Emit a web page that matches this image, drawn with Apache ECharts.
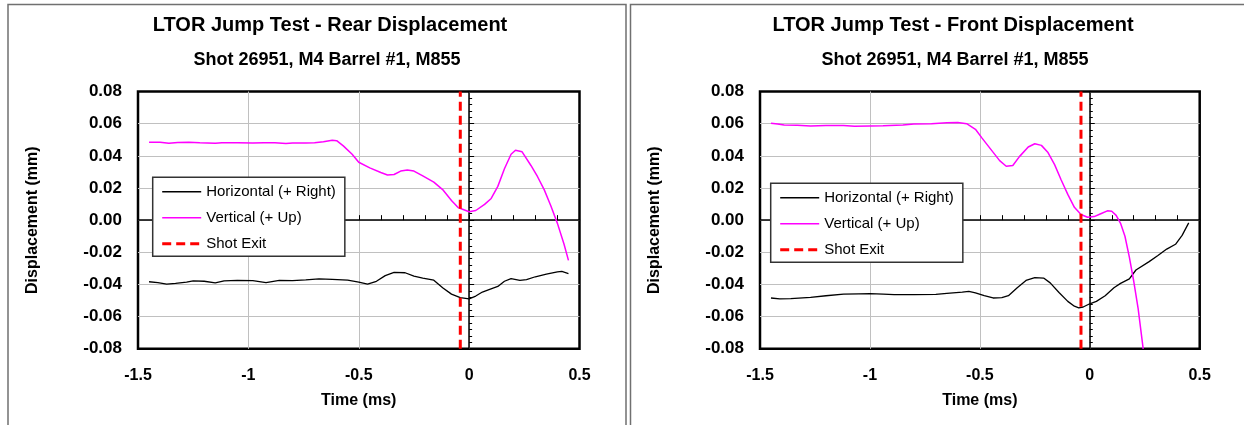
<!DOCTYPE html>
<html>
<head>
<meta charset="utf-8">
<script src="https://cdn.jsdelivr.net/npm/echarts@6/dist/echarts.min.js"></script>
<style>
  html, body { margin: 0; padding: 0; background: #fff; }
  #chart { width: 1244px; height: 425px; }
</style>
</head>
<body>
<div id="chart"></div>
<script>
// Axis ranges and tick labels
const xMin = -1.5, xMax = 0.5, xStep = 0.5;
const yMin = -0.08, yMax = 0.08, yStep = 0.02;
const yTickLabels = ['-0.08', '-0.06', '-0.04', '-0.02', '0.00', '0.02', '0.04', '0.06', '0.08'];

// Muzzle exit time (ms)
const shotExitTime = -0.04;

// Rear sensor: horizontal displacement (mm) vs time (ms)
const rearHorizTime = [-1.45, -1.41, -1.37, -1.33, -1.28, -1.25, -1.20, -1.15, -1.11, -1.05, -0.98, -0.92, -0.86, -0.80, -0.74, -0.68, -0.62, -0.55, -0.50, -0.46, -0.42, -0.38, -0.34, -0.29, -0.25, -0.21, -0.16, -0.12, -0.08, -0.04, 0.00, 0.03, 0.06, 0.09, 0.13, 0.16, 0.19, 0.23, 0.26, 0.30, 0.35, 0.40, 0.42, 0.45];
const rearHorizDisp = [-0.0383, -0.0388, -0.0398, -0.0393, -0.0385, -0.0377, -0.0380, -0.0390, -0.0377, -0.0375, -0.0376, -0.0388, -0.0374, -0.0376, -0.0372, -0.0365, -0.0368, -0.0373, -0.0385, -0.0398, -0.0380, -0.0345, -0.0325, -0.0327, -0.0348, -0.0360, -0.0373, -0.0420, -0.0460, -0.0482, -0.0489, -0.0472, -0.0447, -0.0432, -0.0412, -0.0380, -0.0363, -0.0375, -0.0370, -0.0352, -0.0335, -0.0322, -0.0318, -0.0332];

// Rear sensor: vertical displacement (mm) vs time (ms)
const rearVertTime = [-1.45, -1.40, -1.36, -1.32, -1.27, -1.22, -1.15, -1.12, -1.05, -0.98, -0.93, -0.88, -0.83, -0.80, -0.74, -0.70, -0.66, -0.62, -0.60, -0.57, -0.53, -0.50, -0.45, -0.40, -0.37, -0.34, -0.31, -0.28, -0.25, -0.21, -0.16, -0.12, -0.08, -0.05, -0.03, 0.00, 0.03, 0.07, 0.10, 0.13, 0.16, 0.19, 0.21, 0.24, 0.28, 0.31, 0.34, 0.37, 0.40, 0.43, 0.45];
const rearVertDisp = [0.0485, 0.0485, 0.0478, 0.0483, 0.0485, 0.0481, 0.0478, 0.0481, 0.0481, 0.0479, 0.0481, 0.0481, 0.0477, 0.0480, 0.0479, 0.0482, 0.0487, 0.0497, 0.0494, 0.0462, 0.0410, 0.0360, 0.0325, 0.0296, 0.0281, 0.0284, 0.0305, 0.0312, 0.0305, 0.0275, 0.0236, 0.0190, 0.0122, 0.0078, 0.0068, 0.0052, 0.0060, 0.0098, 0.0135, 0.0210, 0.0320, 0.0410, 0.0435, 0.0425, 0.0340, 0.0270, 0.0190, 0.0090, -0.0020, -0.0150, -0.0250];

// Front sensor: horizontal displacement (mm) vs time (ms)
const frontHorizTime = [-1.45, -1.41, -1.36, -1.27, -1.20, -1.12, -1.05, -1.00, -0.94, -0.89, -0.80, -0.70, -0.65, -0.58, -0.55, -0.52, -0.48, -0.44, -0.40, -0.37, -0.33, -0.29, -0.25, -0.21, -0.18, -0.14, -0.10, -0.07, -0.05, -0.03, 0.00, 0.03, 0.07, 0.11, 0.14, 0.18, 0.21, 0.27, 0.31, 0.35, 0.39, 0.42, 0.45];
const frontHorizDisp = [-0.0484, -0.0490, -0.0488, -0.0480, -0.0470, -0.0460, -0.0458, -0.0457, -0.0460, -0.0463, -0.0463, -0.0462, -0.0455, -0.0448, -0.0443, -0.0452, -0.0470, -0.0484, -0.0482, -0.0470, -0.0420, -0.0375, -0.0357, -0.0360, -0.0390, -0.0450, -0.0505, -0.0535, -0.0545, -0.0540, -0.0520, -0.0505, -0.0470, -0.0420, -0.0393, -0.0365, -0.0310, -0.0258, -0.0220, -0.0180, -0.0150, -0.0095, -0.0017];

// Front sensor: vertical displacement (mm) vs time (ms)
const frontVertTime = [-1.45, -1.42, -1.39, -1.33, -1.27, -1.20, -1.12, -1.07, -1.00, -0.94, -0.85, -0.80, -0.72, -0.65, -0.60, -0.56, -0.52, -0.49, -0.45, -0.41, -0.38, -0.35, -0.32, -0.28, -0.25, -0.22, -0.19, -0.16, -0.13, -0.10, -0.07, -0.04, -0.01, 0.02, 0.05, 0.08, 0.10, 0.12, 0.14, 0.16, 0.18, 0.20, 0.22, 0.243];
const frontVertDisp = [0.0603, 0.0598, 0.0592, 0.0590, 0.0585, 0.0588, 0.0588, 0.0584, 0.0586, 0.0587, 0.0592, 0.0598, 0.0600, 0.0605, 0.0607, 0.0600, 0.0565, 0.0510, 0.0440, 0.0370, 0.0335, 0.0340, 0.0395, 0.0455, 0.0475, 0.0465, 0.0420, 0.0345, 0.0250, 0.0160, 0.0080, 0.0035, 0.0018, 0.0022, 0.0040, 0.0058, 0.0055, 0.0030, -0.0020, -0.0100, -0.0230, -0.0380, -0.0550, -0.0800];

const FONT = 'Liberation Sans, Arial, sans-serif';
const NAME_H = 'Horizontal (+ Right)';
const NAME_V = 'Vertical (+ Up)';
const NAME_S = 'Shot Exit';

const zip = (ts, vs) => ts.map((t, i) => [t, vs[i]]);
const yLabel = v => yTickLabels[Math.round((v - yMin) / yStep)];

const panels = [
  { title: 'LTOR Jump Test - Rear Displacement', titleX: 330, subX: 327,
    grid: { left: 138, top: 91.5, width: 441.5, height: 257.3 },
    legend: { left: 152.7, top: 177.3 },
    horiz: zip(rearHorizTime, rearHorizDisp), vert: zip(rearVertTime, rearVertDisp) },
  { title: 'LTOR Jump Test - Front Displacement', titleX: 953, subX: 955,
    grid: { left: 760, top: 91.5, width: 439.7, height: 257.3 },
    legend: { left: 770.7, top: 183.3 },
    horiz: zip(frontHorizTime, frontHorizDisp), vert: zip(frontVertTime, frontVertDisp) }
];
const subtitle = 'Shot 26951, M4 Barrel #1, M855';

const option = {
  backgroundColor: '#fff',
  animation: false,
  title: [], grid: [], xAxis: [], yAxis: [], series: [], legend: [],
  graphic: [
    { type: 'rect', silent: true, shape: { x: 8, y: 4.5, width: 618, height: 500 },
      style: { fill: 'none', stroke: '#707070', lineWidth: 1.5 } },
    { type: 'rect', silent: true, shape: { x: 630.5, y: 4.5, width: 700, height: 500 },
      style: { fill: 'none', stroke: '#707070', lineWidth: 1.5 } }
  ]
};

panels.forEach((p, k) => {
  option.title.push(
    { text: p.title, left: p.titleX, top: 15.5, textAlign: 'center', padding: 0,
      textStyle: { fontFamily: FONT, fontSize: 20, fontWeight: 'bold', color: '#000' } },
    { text: subtitle, left: p.subX, top: 51, textAlign: 'center', padding: 0,
      textStyle: { fontFamily: FONT, fontSize: 18, fontWeight: 'bold', color: '#000' } }
  );
  option.grid.push(Object.assign({ show: true, borderColor: '#000', borderWidth: 2.5,
    backgroundColor: '#fff', containLabel: false }, p.grid));

  const xi = option.xAxis.length, yi = option.yAxis.length;
  // frame axes: tick labels, gridlines, axis titles
  option.xAxis.push({
    type: 'value', gridIndex: k, min: xMin, max: xMax, interval: xStep, position: 'bottom',
    axisLine: { show: false, onZero: false }, axisTick: { show: false },
    axisLabel: { margin: 19, fontFamily: FONT, fontSize: 16, fontWeight: 'bold', color: '#000' },
    splitLine: { show: true, showMinLine: false, showMaxLine: false, lineStyle: { color: '#c0c0c0', width: 1 } },
    name: 'Time (ms)', nameLocation: 'middle', nameGap: 44,
    nameTextStyle: { fontFamily: FONT, fontSize: 16, fontWeight: 'bold', color: '#000' }
  });
  option.yAxis.push({
    type: 'value', gridIndex: k, min: yMin, max: yMax, interval: yStep, position: 'left',
    axisLine: { show: false, onZero: false }, axisTick: { show: false },
    axisLabel: { margin: 16, formatter: yLabel, fontFamily: FONT, fontSize: 17, fontWeight: 'bold', color: '#000' },
    splitLine: { show: true, showMinLine: false, showMaxLine: false, lineStyle: { color: '#c0c0c0', width: 1 } },
    name: 'Displacement (mm)', nameLocation: 'middle', nameGap: 97,
    nameTextStyle: { fontFamily: FONT, fontSize: 16, fontWeight: 'bold', color: '#000' }
  });
  // axes crossing at zero with inside ticks
  option.xAxis.push({
    type: 'value', gridIndex: k, min: xMin, max: xMax, interval: 0.1, position: 'bottom', z: 1,
    axisLine: { show: true, onZero: true, lineStyle: { color: '#000', width: 1.5 } },
    axisTick: { show: true, inside: true, length: 5, lineStyle: { color: '#000', width: 1 } },
    axisLabel: { show: false }, splitLine: { show: false }
  });
  option.yAxis.push({
    type: 'value', gridIndex: k, min: yMin, max: yMax, interval: yStep, position: 'left', z: 1,
    axisLine: { show: true, onZero: true, lineStyle: { color: '#000', width: 1.5 } },
    axisTick: { show: true, inside: true, length: 5, lineStyle: { color: '#000', width: 1 } },
    minorTick: { show: true, splitNumber: 5, length: 3, lineStyle: { color: '#000', width: 1 } },
    axisLabel: { show: false }, splitLine: { show: false }, minorSplitLine: { show: false }
  });

  option.series.push(
    { name: NAME_H, type: 'line', xAxisIndex: xi, yAxisIndex: yi, data: p.horiz,
      symbol: 'none', smooth: false, lineStyle: { color: '#000', width: 1.3 }, itemStyle: { color: '#000' } },
    { name: NAME_V, type: 'line', xAxisIndex: xi, yAxisIndex: yi, data: p.vert,
      symbol: 'none', smooth: false, lineStyle: { color: '#ff00ff', width: 1.5 }, itemStyle: { color: '#ff00ff' } },
    { name: NAME_S, type: 'line', xAxisIndex: xi, yAxisIndex: yi, z: 3,
      data: [[shotExitTime, yMin], [shotExitTime, yMax]],
      symbol: 'none', lineStyle: { color: '#ff0000', width: 3, type: [9, 5] }, itemStyle: { color: '#ff0000' } }
  );

  // legend keys show line samples only (symbol hidden)
  const hidden = { color: 'rgba(0,0,0,0)', borderWidth: 0, opacity: 0 };
  option.legend.push({
    left: p.legend.left, top: p.legend.top, orient: 'vertical', selectedMode: false,
    padding: [7, 9, 5, 8], itemGap: 11, itemWidth: 39, itemHeight: 14,
    backgroundColor: '#fff', borderColor: '#333', borderWidth: 1.5, borderRadius: 0,
    textStyle: { fontFamily: FONT, fontSize: 15, color: '#000' },
    itemStyle: hidden,
    data: [
      { name: NAME_H, itemStyle: hidden, lineStyle: { width: 1.5, opacity: 1 } },
      { name: NAME_V, itemStyle: hidden, lineStyle: { width: 1.5, opacity: 1 } },
      { name: NAME_S, itemStyle: hidden, lineStyle: { width: 3, opacity: 1 } }
    ]
  });
});

const chart = echarts.init(document.getElementById('chart'), null, { renderer: 'canvas' });
chart.setOption(option);
</script>
</body>
</html>
